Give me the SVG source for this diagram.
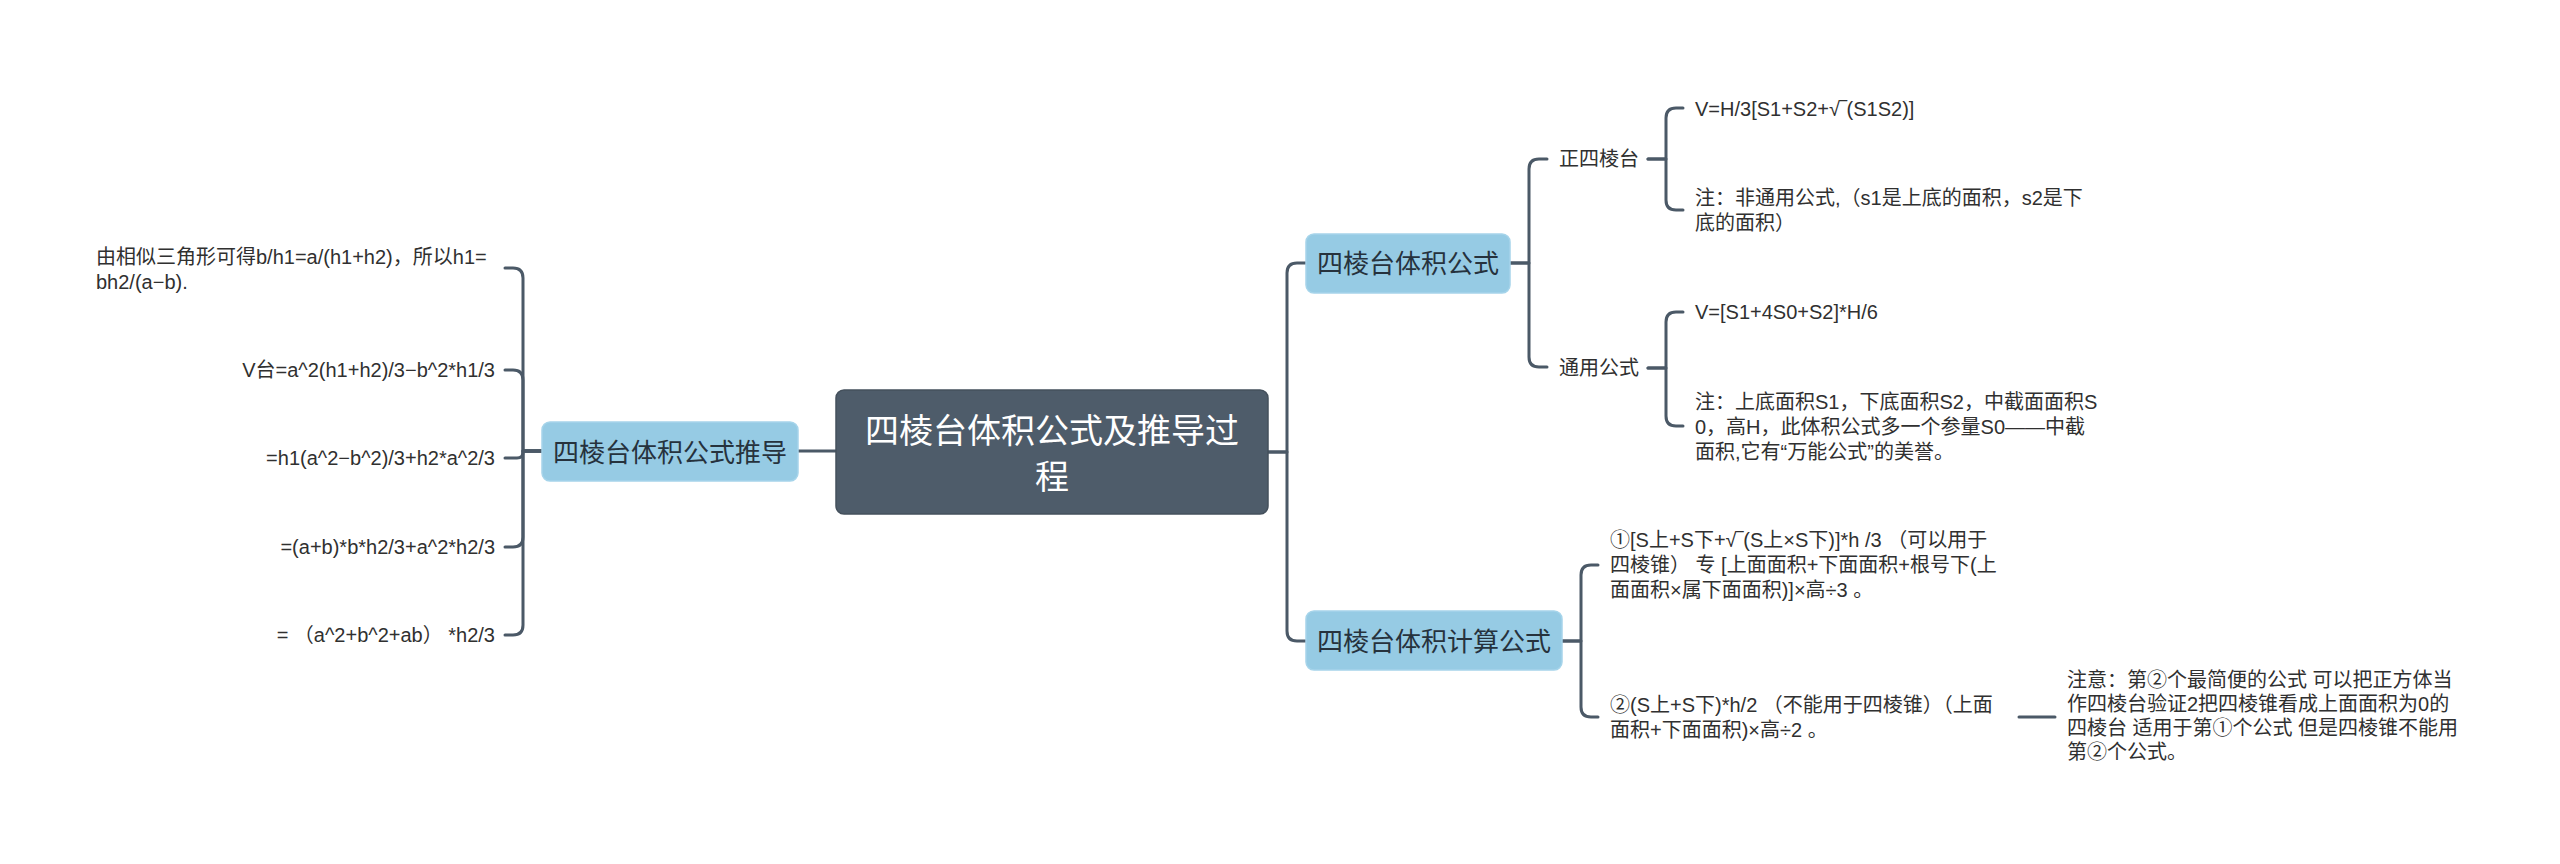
<svg xmlns="http://www.w3.org/2000/svg" width="2560" height="864" viewBox="0 0 2560 864">
<style>
.bg{fill:#ffffff}
.root rect{fill:#4e5c6a;stroke:#44505c;stroke-width:1.5}
.root text{fill:#ffffff;font-family:"Noto Sans CJK SC",sans-serif;font-size:34px;text-anchor:middle}
.main rect{fill:#96cbe4;stroke:#a6d4ea;stroke-width:1.5}
.main text{fill:#26323d;font-family:"Noto Sans CJK SC",sans-serif;font-size:26px;text-anchor:middle}
.leaf text{fill:#303030;font-family:"Liberation Sans","Noto Sans CJK SC",sans-serif;font-size:20px}
.leaf.r text{text-anchor:end}
.conn path{fill:none;stroke:#4b5967;stroke-width:3;stroke-linecap:round;stroke-linejoin:round}
</style>
<rect class="bg" x="0" y="0" width="2560" height="864"/>
<g id="connectors" class="conn">
<path d="M836,451 H798"/>
<path d="M542,451 H523 V278 Q523,268 513,268 H505"/>
<path d="M542,451 H523 V380 Q523,370 513,370 H505"/>
<path d="M542,451 H523 V452 Q523,458 517,458 H505"/>
<path d="M542,451 H523 V537 Q523,547 513,547 H505"/>
<path d="M542,451 H523 V625 Q523,635 513,635 H505"/>
<path d="M1268,452 H1287 V273 Q1287,263 1297,263 H1306"/>
<path d="M1268,452 H1287 V631 Q1287,641 1297,641 H1306"/>
<path d="M1510,263 H1529 V169 Q1529,159 1539,159 H1547"/>
<path d="M1510,263 H1529 V357 Q1529,367 1539,367 H1547"/>
<path d="M1648,159 H1666 V118 Q1666,108 1676,108 H1683"/>
<path d="M1648,159 H1666 V200 Q1666,210 1676,210 H1683"/>
<path d="M1648,368 H1666 V322 Q1666,312 1676,312 H1683"/>
<path d="M1648,368 H1666 V416 Q1666,426 1676,426 H1683"/>
<path d="M1562,641 H1581 V575 Q1581,565 1591,565 H1598"/>
<path d="M1562,641 H1581 V707 Q1581,717 1591,717 H1598"/>
<path d="M2019,717 H2055"/>
</g>
<g id="root" class="root">
<rect x="836" y="390" width="432" height="124" rx="8"/>
<text x="1052" y="443">四棱台体积公式及推导过</text>
<text x="1052" y="489">程</text>
</g>
<g id="n-derive" class="main">
<rect x="542" y="422" width="256" height="59" rx="8"/>
<text x="670" y="462">四棱台体积公式推导</text>
</g>
<g id="n-formula" class="main">
<rect x="1306" y="234" width="204" height="59" rx="8"/>
<text x="1408" y="273">四棱台体积公式</text>
</g>
<g id="n-calc" class="main">
<rect x="1306" y="611" width="256" height="59" rx="8"/>
<text x="1434" y="651">四棱台体积计算公式</text>
</g>
<g id="d1" class="leaf">
<text x="96" y="264">由相似三角形可得b/h1=a/(h1+h2)，所以h1=</text>
<text x="96" y="289">bh2/(a−b).</text>
</g>
<g id="d2" class="leaf r"><text x="495" y="377">V台=a^2(h1+h2)/3−b^2*h1/3</text></g>
<g id="d3" class="leaf r"><text x="495" y="465">=h1(a^2−b^2)/3+h2*a^2/3</text></g>
<g id="d4" class="leaf r"><text x="495" y="554">=(a+b)*b*h2/3+a^2*h2/3</text></g>
<g id="d5" class="leaf r"><text x="495" y="642">= （a^2+b^2+ab） *h2/3</text></g>
<g id="s-regular" class="leaf"><text x="1559" y="166">正四棱台</text></g>
<g id="s-general" class="leaf"><text x="1559" y="375">通用公式</text></g>
<g id="r1" class="leaf"><text x="1695" y="116">V=H/3[S1+S2+√‾(S1S2)]</text></g>
<g id="r2" class="leaf">
<text x="1695" y="205">注：非通用公式,（s1是上底的面积，s2是下</text>
<text x="1695" y="230">底的面积）</text>
</g>
<g id="g1" class="leaf"><text x="1695" y="319">V=[S1+4S0+S2]*H/6</text></g>
<g id="g2" class="leaf">
<text x="1695" y="409">注：上底面积S1，下底面积S2，中截面面积S</text>
<text x="1695" y="434">0，高H，此体积公式多一个参量S0——中截</text>
<text x="1695" y="459">面积,它有“万能公式”的美誉。</text>
</g>
<g id="c1" class="leaf">
<text x="1610" y="547">①[S上+S下+√‾(S上×S下)]*h /3 （可以用于</text>
<text x="1610" y="572">四棱锥） 专 [上面面积+下面面积+根号下(上</text>
<text x="1610" y="597">面面积×属下面面积)]×高÷3 。</text>
</g>
<g id="c2" class="leaf">
<text x="1610" y="712">②(S上+S下)*h/2 （不能用于四棱锥）（上面</text>
<text x="1610" y="737">面积+下面面积)×高÷2 。</text>
</g>
<g id="note" class="leaf">
<text x="2067" y="687">注意：第②个最简便的公式 可以把正方体当</text>
<text x="2067" y="711">作四棱台验证2把四棱锥看成上面面积为0的</text>
<text x="2067" y="735">四棱台 适用于第①个公式 但是四棱锥不能用</text>
<text x="2067" y="759">第②个公式。</text>
</g>
</svg>
